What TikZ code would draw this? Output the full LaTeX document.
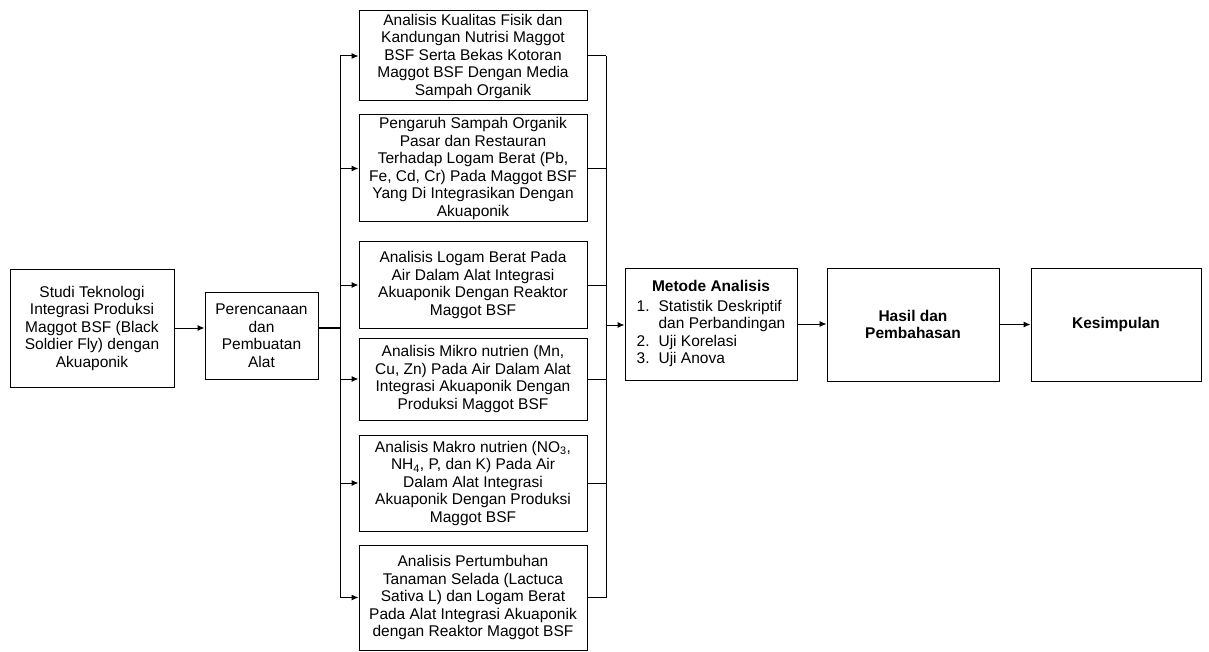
\documentclass[tikz,border=0pt]{standalone}
\usepackage{fontspec}
\setmainfont{Liberation Sans}
\usetikzlibrary{arrows.meta}
\tikzset{
  box/.style={draw=black, line width=1pt, inner sep=0pt, align=center,
    font=\fontsize{15.5}{17.5}\selectfont},
  arr/.style={line width=1pt, -{Latex[length=7pt,width=6pt]}},
  ln/.style={line width=1pt},
}
\begin{document}
\begin{tikzpicture}[x=1pt,y=-1pt]
\useasboundingbox (0,0) rectangle (1209,652);
\node[box, minimum width=164pt, minimum height=118pt] (A) at (92,328)
  {Studi Teknologi\\Integrasi Produksi\\Maggot BSF (Black\\Soldier Fly) dengan\\Akuaponik};
\node[box, minimum width=113pt, minimum height=87pt] (B) at (261.5,335.5)
  {Perencanaan\\dan\\Pembuatan\\Alat};
\node[box, minimum width=228pt, minimum height=90pt] (m1) at (473,56)
  {Analisis Kualitas Fisik dan\\Kandungan Nutrisi Maggot\\BSF Serta Bekas Kotoran\\Maggot BSF Dengan Media\\Sampah Organik};
\node[box, minimum width=228pt, minimum height=107pt] (m2) at (473,168.5)
  {Pengaruh Sampah Organik\\Pasar dan Restauran\\Terhadap Logam Berat (Pb,\\Fe, Cd, Cr) Pada Maggot BSF\\Yang Di Integrasikan Dengan\\Akuaponik};
\node[box, minimum width=228pt, minimum height=86pt] (m3) at (473,285)
  {Analisis Logam Berat Pada\\Air Dalam Alat Integrasi\\Akuaponik Dengan Reaktor\\Maggot BSF};
\node[box, minimum width=228pt, minimum height=82pt] (m4) at (473,379)
  {Analisis Mikro nutrien (Mn,\\Cu, Zn) Pada Air Dalam Alat\\Integrasi Akuaponik Dengan\\Produksi Maggot BSF};
\node[box, minimum width=228pt, minimum height=96pt] (m5) at (473,483)
  {Analisis Makro nutrien (NO\textsubscript{3},\\NH\textsubscript{4}, P, dan K) Pada Air\\Dalam Alat Integrasi\\Akuaponik Dengan Produksi\\Maggot BSF};
\node[box, minimum width=228pt, minimum height=105pt] (m6) at (473,597.5)
  {Analisis Pertumbuhan\\Tanaman Selada (Lactuca\\Sativa L) dan Logam Berat\\Pada Alat Integrasi Akuaponik\\dengan Reaktor Maggot BSF};
\node[box, minimum width=172pt, minimum height=112pt] (M) at (711,324)
  {\begin{tabular}{@{}l@{\hspace{9pt}}l@{}}
   \multicolumn{2}{c}{\bfseries Metode Analisis}\\[2pt]
   1. & Statistik Deskriptif\\
      & dan Perbandingan\\
   2. & Uji Korelasi\\
   3. & Uji Anova
   \end{tabular}};
\node[box, minimum width=172pt, minimum height=113pt, font=\fontsize{15.5}{17.5}\selectfont\bfseries] (H) at (913,324.5)
  {Hasil dan\\Pembahasan};
\node[box, minimum width=170pt, minimum height=113pt, font=\fontsize{15.5}{17.5}\selectfont\bfseries] (K) at (1116,324.5)
  {Kesimpulan};
\coordinate (bl) at (340,328);
\coordinate (br) at (606,325);
% A -> B
\draw[arr] (A.east) -- (A.east -| B.west);
% B -> left bus
\draw[line width=2pt] (B.east |- bl) -- (bl);
\draw[ln] (m1.west -| bl) -- (m6.west -| bl);
\foreach \m in {m1,m2,m3,m4,m5,m6}{
  \draw[arr] (\m.west -| bl) -- (\m.west);
  \draw[ln] (\m.east) -- (\m.east -| br);
}
\draw[ln] (m1.east -| br) -- (m6.east -| br);
\draw[arr] (br) -- (br -| M.west);
\draw[arr] (M.east) -- (M.east -| H.west);
\draw[arr] (H.east) -- (H.east -| K.west);
\end{tikzpicture}
\end{document}
